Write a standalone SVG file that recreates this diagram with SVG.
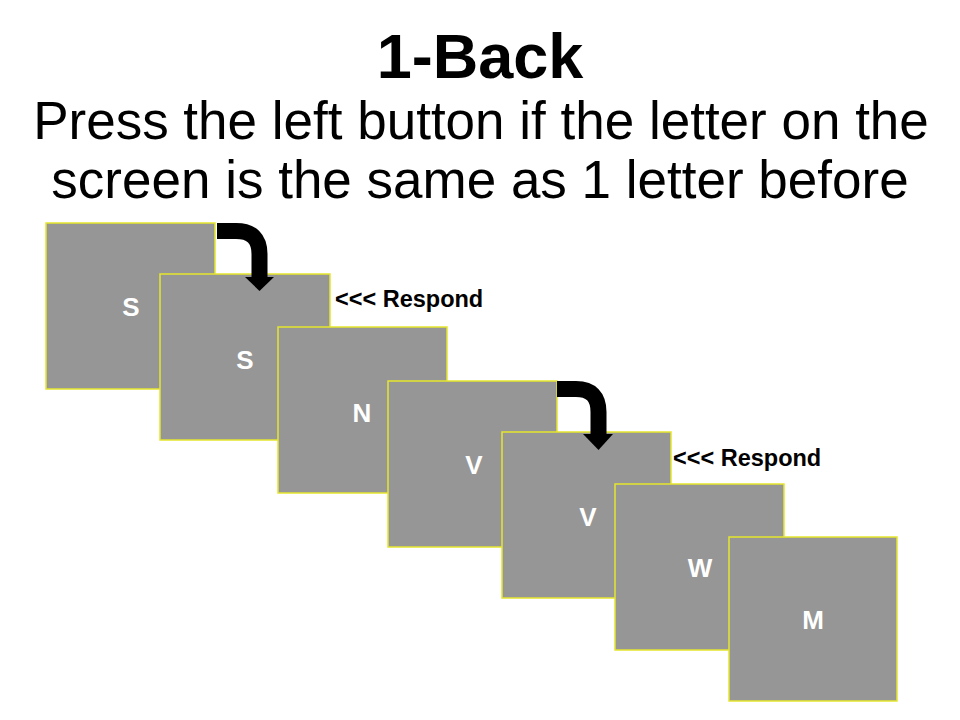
<svg xmlns="http://www.w3.org/2000/svg" width="960" height="720" viewBox="0 0 960 720">
<style>
.card{fill:#969696;stroke:#e6e62e;stroke-width:1.5}
.let{font-family:"Liberation Sans",Arial,sans-serif;font-weight:bold;font-size:26px;fill:#ffffff;text-anchor:middle}
.resp{font-family:"Liberation Sans",Arial,sans-serif;font-weight:bold;font-size:23.5px;fill:#000}
.arr{fill:none;stroke:#000;stroke-width:16}
</style>
<rect width="960" height="720" fill="#ffffff"/>
<text x="480" y="78" font-family="Liberation Sans, Arial, sans-serif" font-weight="bold" font-size="63" text-anchor="middle">1-Back</text>
<text x="481" y="139" font-family="Liberation Sans, Arial, sans-serif" font-size="53" text-anchor="middle">Press the left button if the letter on the</text>
<text x="480" y="198" font-family="Liberation Sans, Arial, sans-serif" font-size="53" text-anchor="middle">screen is the same as 1 letter before</text>
<g id="card1"><rect class="card" x="46" y="223" width="169" height="166"/><text class="let" x="131" y="316">S</text></g>
<g id="card2"><rect class="card" x="160" y="274" width="170" height="166"/><text class="let" x="245" y="369">S</text></g>
<g id="card3"><rect class="card" x="278" y="327" width="169" height="166"/><text class="let" x="362" y="422">N</text></g>
<g id="card4"><rect class="card" x="388" y="381" width="169" height="166"/><text class="let" x="474" y="474">V</text></g>
<g id="card5"><rect class="card" x="502" y="432" width="169" height="166"/><text class="let" x="588" y="526">V</text></g>
<g id="card6"><rect class="card" x="615" y="484" width="169" height="166"/><text class="let" x="700" y="577">W</text></g>
<g id="card7"><rect class="card" x="729" y="537" width="168" height="164"/><text class="let" x="813" y="629">M</text></g>
<g id="connectors">
<path class="arr" d="M217 231 H236 Q259.5 231 259.5 254 V279"/>
<polygon points="245,277 274,277 259.5,291" fill="#000"/>
<path class="arr" d="M557 389 H576 Q598.5 389 598.5 412 V436"/>
<polygon points="583,434 613,434 598.5,450" fill="#000"/>
</g>
<text class="resp" x="335" y="307">&lt;&lt;&lt; Respond</text>
<text class="resp" x="673" y="466">&lt;&lt;&lt; Respond</text>
</svg>
